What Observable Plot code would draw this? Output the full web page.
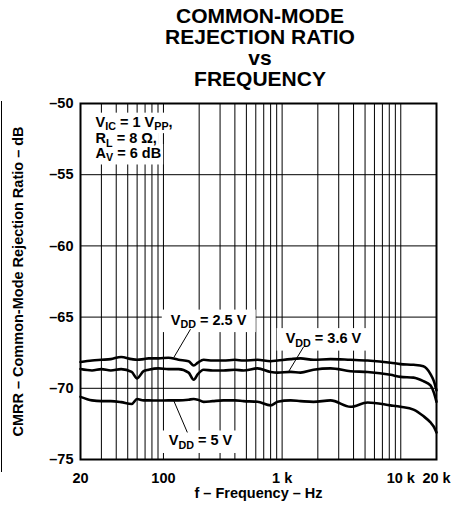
<!DOCTYPE html>
<html>
<head>
<meta charset="utf-8">
<script src="https://cdn.jsdelivr.net/npm/d3@7"></script>
<script src="https://cdn.jsdelivr.net/npm/@observablehq/plot@0.6"></script>
<style>
  html, body { margin: 0; padding: 0; background: white; }
  body { width: 452px; height: 506px; position: relative; overflow: hidden; font-family: "Liberation Sans", Arial, sans-serif; }
  #title { box-sizing: border-box; height: 89px; padding-top: 5px; padding-left: 68px; text-align: center;
           font: bold 21px/21px "Liberation Sans", Arial, sans-serif; color: #000; }
  #edge { position: absolute; left: 1px; top: 101px; height: 371px; border-left: 1.5px solid #000; }
</style>
</head>
<body>
<div id="title">COMMON-MODE<br>REJECTION RATIO<br>vs<br>FREQUENCY</div>
<div id="chart"></div>
<div id="edge"></div>
<script>
// Frequency (Hz) sample points shared by all curves
const freq = [20, 25, 30, 36, 44, 54, 60, 68, 75, 91, 110, 134, 163, 180, 195, 218, 260, 320, 400, 473,
              620, 800, 915, 1180, 1430, 1840, 2560, 3770, 5250, 8200, 9950, 12800, 15500, 17800, 19000, 20000];
// CMRR (dB) for each supply voltage
const cmrrVdd25 = [-68.15, -68.05, -68.0, -67.95, -67.8, -67.95, -68.0, -67.95, -67.9, -67.9, -67.85, -68.0, -68.1, -68.4, -68.2, -68.0, -68.05, -68.05, -68.0, -68.05,
                   -68.0, -68.1, -68.05, -67.95, -67.9, -68.0, -67.95, -68.0, -68.05, -68.2, -68.3, -68.35, -68.45, -69.0, -69.5, -70.15];
const cmrrVdd36 = [-68.65, -68.75, -68.65, -68.75, -68.65, -68.85, -69.3, -68.8, -68.7, -68.6, -68.65, -68.65, -68.9, -69.4, -69.0, -68.7, -68.75, -68.75, -68.7, -68.75,
                   -68.6, -68.85, -68.9, -68.85, -68.9, -68.7, -68.6, -68.8, -68.85, -69.05, -69.2, -69.25, -69.5, -69.8, -70.3, -70.95];
const cmrrVdd5  = [-70.6, -70.85, -70.9, -70.9, -70.97, -71.1, -70.75, -70.85, -70.85, -70.86, -70.85, -70.85, -70.8, -70.75, -70.8, -70.95, -70.9, -70.85, -70.85, -70.9,
                   -70.95, -71.2, -70.95, -70.85, -70.9, -70.95, -70.85, -71.3, -71.0, -71.2, -71.3, -71.5, -71.95, -72.4, -72.7, -73.1];
const seriesNames = ["2.5 V", "3.6 V", "5 V"];

// Axis ticks and grid
const xTicks = [20, 100, 1000, 10000, 20000];
const xTickLabels = ["20", "100", "1 k", "10 k", "20 k"];
const xGrid = [20, 30, 40, 50, 60, 70, 80, 90, 100, 200, 300, 400, 500, 600, 700, 800, 900,
               1000, 2000, 3000, 4000, 5000, 6000, 7000, 8000, 9000, 10000, 20000];
const yTicks = [-75, -70, -65, -60, -55, -50];

// Annotations (text with subscripts marked as _{...})
const curveLabels = ["V_{DD} = 2.5 V", "V_{DD} = 3.6 V", "V_{DD} = 5 V"];
const curveLabelF = [240, 2230, 205];
const curveLabelDb = [-65.2, -66.5, -73.69];
const leaderF1 = [169, 1514, 122], leaderDb1 = [-65.85, -67.1, -70.86];
const leaderF2 = [122, 1130, 159], leaderDb2 = [-67.85, -68.85, -73.1];
const condLabels = ["V_{IC} = 1 V_{PP},", "R_{L} = 8 Ω,", "A_{V} = 6 dB"];
const condF = [26.8, 26.8, 26.8];
const condDb = [-51.3, -52.45, -53.5];

const series = [cmrrVdd25, cmrrVdd36, cmrrVdd5];
const rows = series.flatMap((vals, s) => freq.map((f, i) => ({f, db: vals[i], vdd: seriesNames[s]})));
const curveLabelRows = curveLabels.map((t, i) => ({t, f: curveLabelF[i], db: curveLabelDb[i]}));
const condRows = condLabels.map((t, i) => ({t, f: condF[i], db: condDb[i]}));
const leaderRows = leaderF1.map((f, i) => ({f1: f, d1: leaderDb1[i], f2: leaderF2[i], d2: leaderDb2[i]}));

const plot = Plot.plot({
  width: 452,
  height: 417,
  marginTop: 14,
  marginBottom: 47,
  marginLeft: 80,
  marginRight: 16,
  style: {fontFamily: "'Liberation Sans', Arial, sans-serif", fontWeight: "bold", fontSize: "14.5px", background: "white", color: "black", overflow: "visible"},
  x: {type: "log", domain: [20, 20000]},
  y: {domain: [-75, -50]},
  marks: [
    Plot.ruleX(xGrid, {stroke: "#000", strokeWidth: 1}),
    Plot.ruleY(yTicks, {stroke: "#000", strokeWidth: 1}),
    Plot.text(curveLabelRows, {x: "f", y: "db", text: "t", fill: "black", textAnchor: "middle", fontSize: 14.5, fontWeight: "bold"}),
    Plot.text(condRows, {x: "f", y: "db", text: "t", fill: "black", textAnchor: "start", fontSize: 14.5, fontWeight: "bold"}),
    Plot.link(leaderRows, {x1: "f1", y1: "d1", x2: "f2", y2: "d2", stroke: "black", strokeWidth: 1}),
    Plot.line(rows, {x: "f", y: "db", z: "vdd", stroke: "black", strokeWidth: 2.6, curve: "monotone-x"}),
    Plot.frame({stroke: "black", strokeWidth: 2}),
    Plot.axisX({ticks: xTicks, tickFormat: (d) => xTickLabels[xTicks.indexOf(d)], tickSize: 0, tickPadding: 13, label: null, fontSize: 14.5}),
    Plot.axisY({ticks: yTicks, tickFormat: (d) => "–" + Math.abs(d), tickSize: 0, tickPadding: 7, label: null, fontSize: 14.5}),
    Plot.text([0], {frameAnchor: "bottom", text: () => "f – Frequency – Hz", textAnchor: "middle", lineAnchor: "middle", dy: 34, fill: "black", fontSize: 14.5}),
    Plot.text([0], {frameAnchor: "left", text: () => "CMRR – Common-Mode Rejection Ratio – dB", textAnchor: "middle", lineAnchor: "middle", rotate: -90, dx: -62, fill: "black", fontSize: 14.5})
  ]
});
document.getElementById("chart").appendChild(plot);

// Subscripts + white knockout boxes behind annotation text
const ns = "http://www.w3.org/2000/svg";
plot.querySelectorAll("text").forEach((t) => {
  const s = t.textContent;
  if (!s.includes("_{")) return;
  const isCurve = s.startsWith("V_{DD}");
  while (t.firstChild) t.removeChild(t.firstChild);
  const re = /_\{([^}]*)\}/g;
  let last = 0, m;
  const parts = [];
  while ((m = re.exec(s))) { parts.push([s.slice(last, m.index), false]); parts.push([m[1], true]); last = re.lastIndex; }
  parts.push([s.slice(last), false]);
  let shifted = false;
  for (const [str, sub] of parts) {
    if (!str) continue;
    const ts = document.createElementNS(ns, "tspan");
    ts.textContent = str;
    if (sub) { ts.setAttribute("font-size", "0.74em"); ts.setAttribute("dy", "3.5"); }
    else if (shifted) { ts.setAttribute("dy", "-3.5"); }
    shifted = sub;
    t.appendChild(ts);
  }
  const bb = t.getBBox();
  const px = isCurve ? 9 : 2, py = isCurve ? 2 : 1;
  const r = document.createElementNS(ns, "rect");
  r.setAttribute("x", bb.x - px);
  r.setAttribute("y", bb.y - py);
  r.setAttribute("width", bb.width + 2 * px);
  r.setAttribute("height", bb.height + 2 * py);
  r.setAttribute("fill", "white");
  r.setAttribute("stroke", "none");
  if (t.getAttribute("transform")) r.setAttribute("transform", t.getAttribute("transform"));
  // put every knockout box first in its group so no box hides a neighbouring text
  t.parentNode.insertBefore(r, t.parentNode.firstChild);
});
</script>
</body>
</html>
